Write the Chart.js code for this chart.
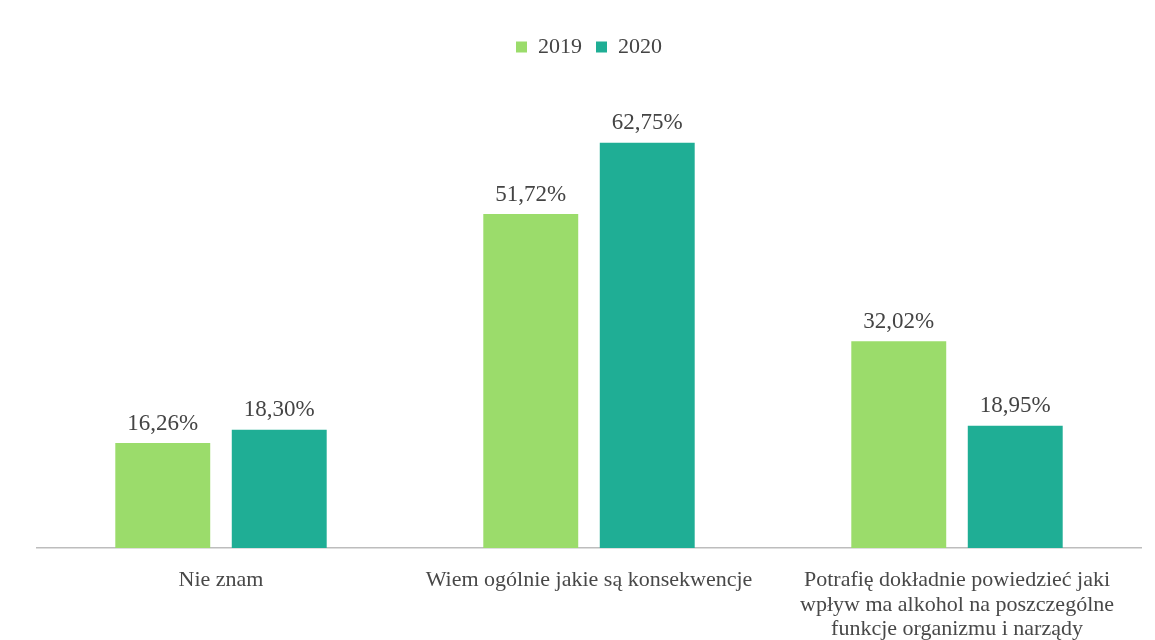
<!DOCTYPE html>
<html>
<head>
<meta charset="utf-8">
<script src="https://cdn.jsdelivr.net/npm/chart.js@4/dist/chart.umd.min.js"></script>
<style>
  html, body { margin: 0; padding: 0; background: #ffffff; }
  #wrap { width: 1155px; height: 640px; }
</style>
</head>
<body>
<div id="wrap"><canvas id="chart"></canvas></div>
<script>
const categories = [
    'Nie znam',
    'Wiem ogólnie jakie są konsekwencje',
    ['Potrafię dokładnie powiedzieć jaki', 'wpływ ma alkohol na poszczególne', 'funkcje organizmu i narządy']
];
const values2019 = [16.26, 51.72, 32.02];
const values2020 = [18.30, 62.75, 18.95];
const seriesNames = ['2019', '2020'];

const FONT = '"Liberation Serif", "DejaVu Serif", serif';

// draws the percent value above each bar
const valueLabels = {
    id: 'valueLabels',
    afterDatasetsDraw(chart) {
        const ctx = chart.ctx;
        ctx.save();
        ctx.font = '23px ' + FONT;
        ctx.fillStyle = '#444444';
        ctx.textAlign = 'center';
        ctx.textBaseline = 'bottom';
        chart.data.datasets.forEach((ds, i) => {
            chart.getDatasetMeta(i).data.forEach((bar, j) => {
                const txt = ds.data[j].toFixed(2).replace('.', ',') + '%';
                ctx.fillText(txt, bar.x, bar.y - 8);
            });
        });
        ctx.restore();
    }
};

// leave some extra room below the legend
const legendGap = {
    id: 'legendGap',
    beforeInit(chart) {
        const fit = chart.legend.fit;
        chart.legend.fit = function() {
            fit.call(this);
            this.height += 28;
        };
    }
};

new Chart(document.getElementById('chart'), {
    type: 'bar',
    data: {
        labels: categories,
        datasets: [
            {
                label: seriesNames[0],
                data: values2019,
                backgroundColor: '#9bdc6b',
                categoryPercentage: 0.633,
                barPercentage: 0.815
            },
            {
                label: seriesNames[1],
                data: values2020,
                backgroundColor: '#1fae95',
                categoryPercentage: 0.633,
                barPercentage: 0.815
            }
        ]
    },
    options: {
        responsive: true,
        maintainAspectRatio: false,
        animation: false,
        layout: {
            padding: { left: 37, right: 14, top: 22, bottom: 0 }
        },
        plugins: {
            legend: {
                display: true,
                position: 'top',
                labels: {
                    boxWidth: 11,
                    boxHeight: 11,
                    padding: 14,
                    color: '#444444',
                    font: { family: FONT, size: 22 }
                }
            },
            tooltip: { enabled: false }
        },
        scales: {
            y: {
                display: false,
                min: 0,
                max: 70
            },
            x: {
                grid: { display: false },
                border: { display: true, color: '#bdbdbd', width: 1.5 },
                afterFit(scale) { scale.height = 92; },
                ticks: {
                    color: '#484848',
                    padding: 12,
                    maxRotation: 0,
                    font: { family: FONT, size: 22, lineHeight: 1.12 }
                }
            }
        }
    },
    plugins: [valueLabels, legendGap]
});
</script>
</body>
</html>
